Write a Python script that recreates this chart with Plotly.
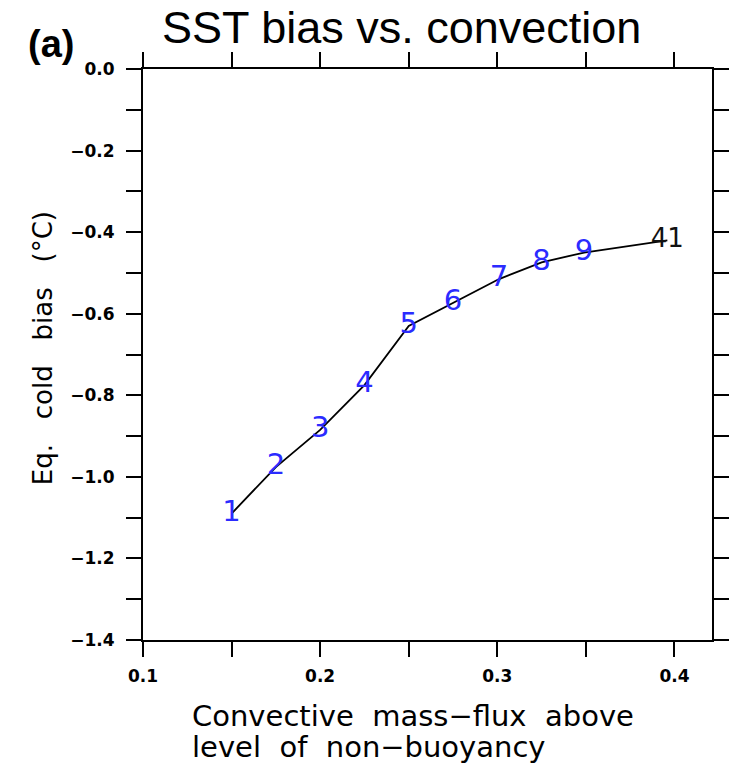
import plotly.graph_objects as go

# data
mass_flux = [0.150, 0.175, 0.200, 0.225, 0.250, 0.275, 0.301, 0.325, 0.349, 0.396]
cold_bias = [-1.09, -0.976, -0.885, -0.775, -0.630, -0.574, -0.515, -0.474, -0.450, -0.420]
labels = ["1", "2", "3", "4", "5", "6", "7", "8", "9", "41"]
label_colors = ["#2b2bff"] * 9 + ["#111111"]
label_sizes = [29] * 9 + [26]

fig = go.Figure()
fig.add_trace(go.Scatter(x=mass_flux, y=cold_bias, mode="lines",
                         line=dict(color="black", width=1.8), showlegend=False,
                         hoverinfo="skip"))
fig.add_trace(go.Scatter(x=mass_flux, y=cold_bias, mode="text", text=labels,
                         textposition="middle center",
                         textfont=dict(color=label_colors, size=label_sizes, family="DejaVu Sans"),
                         showlegend=False))

axis_common = dict(showgrid=False, zeroline=False, showline=True, linecolor="black",
                   linewidth=2, ticks="outside", ticklen=15, tickwidth=2,
                   tickcolor="black", mirror="ticks",
                   tickfont=dict(family="DejaVu Sans", size=17, color="black", weight="bold"))

fig.update_xaxes(range=[0.1, 0.4212], tickvals=[0.1, 0.2, 0.3, 0.4], tickformat=".1f",
                 minor=dict(tickvals=[0.15, 0.25, 0.35], ticks="outside", ticklen=15,
                            tickwidth=2, tickcolor="black"),
                 ticklabelstandoff=5, **axis_common)
fig.update_yaxes(range=[-1.4, 0.0], tickvals=[0, -0.2, -0.4, -0.6, -0.8, -1.0, -1.2, -1.4],
                 tickformat=".1f",
                 minor=dict(tickvals=[-0.1, -0.3, -0.5, -0.7, -0.9, -1.1, -1.3], ticks="outside",
                            ticklen=15, tickwidth=2, tickcolor="black"),
                 ticklabelstandoff=8, **axis_common)

# position annotations in pixel terms relative to the plot area (paper coords)
pw, ph = 741 - 143 - 22, 768 - 69 - 128
def px2paper(xp, yp):
    return (xp - 143) / pw, (768 - 128 - yp) / ph

def ann(text, xp, yp, size, family, angle=0, xanchor="center"):
    x, y = px2paper(xp, yp)
    return dict(text=text, x=x, y=y, xref="paper", yref="paper", xanchor=xanchor,
                yanchor="middle", showarrow=False, textangle=angle,
                font=dict(family=family, size=size, color="black"))

gap = "\u00a0 "
sp = "\u00a0\u00a0"
fig.update_layout(
    width=741, height=768,
    margin=dict(l=143, r=22, t=69, b=128),
    paper_bgcolor="white", plot_bgcolor="white",
    annotations=[
        ann("SST bias vs. convection", 405, 27.5, 45, "Liberation Sans"),
        ann("<b>(a)</b>", 50, 44, 38, "Liberation Sans"),
        ann("Convective" + gap + "mass−flux" + gap + "above", 191, 716, 29,
            "DejaVu Sans", xanchor="left"),
        ann("level" + gap + "of" + gap + "non−buoyancy", 191, 747, 29,
            "DejaVu Sans", xanchor="left"),
        ann("Eq." + sp + " cold" + sp + " bias" + sp + " (°C)", 42, 348, 26, "DejaVu Sans",
            angle=-90),
    ],
)

fig.write_html("out.html")
